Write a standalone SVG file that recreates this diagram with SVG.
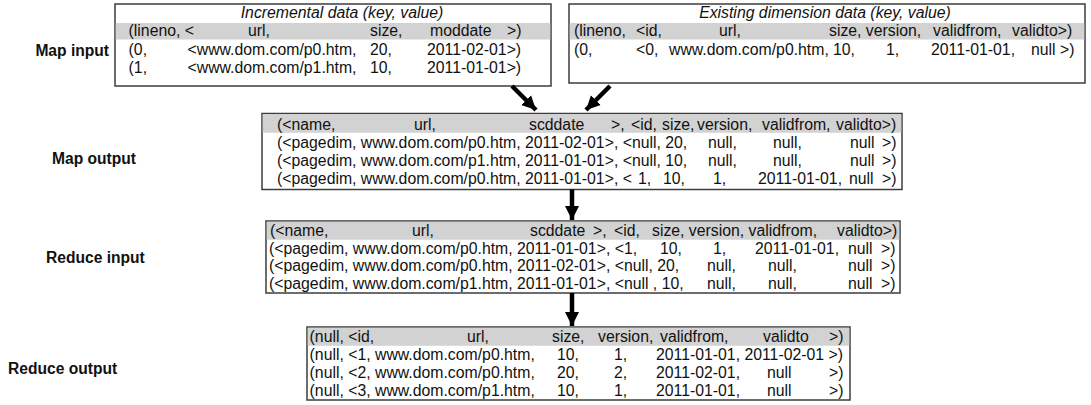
<svg xmlns="http://www.w3.org/2000/svg" width="1091" height="405" viewBox="0 0 1091 405">
<style>
.t{font-family:"Liberation Sans",Arial,Helvetica,sans-serif;font-size:15.8px;fill:#111}
.lbl{font-family:"Liberation Sans",Arial,Helvetica,sans-serif;font-size:15.6px;font-weight:bold;fill:#111}
.ttl{font-style:italic;text-anchor:middle}
.box{fill:#fff;stroke:#3c3c3c;stroke-width:1.5}
.hdr{fill:#d2d2d2}
.conn{stroke:#000;stroke-width:4.5;fill:none;marker-end:url(#ah)}
</style>
<defs>
<marker id="ah" markerUnits="userSpaceOnUse" markerWidth="16" markerHeight="16" refX="14" refY="7" orient="auto" viewBox="0 0 16 14">
<path d="M0,0 L14,7 L0,14 Z" fill="#000"/>
</marker>
</defs>
<rect width="1091" height="405" fill="#fff"/>

<g id="label-map-input"><text class="lbl" x="109" y="55.5" text-anchor="end">Map input</text></g>
<g id="label-map-output"><text class="lbl" x="52" y="163.5">Map output</text></g>
<g id="label-reduce-input"><text class="lbl" x="46" y="262.5">Reduce input</text></g>
<g id="label-reduce-output"><text class="lbl" x="8" y="373.5">Reduce output</text></g>

<g id="incremental-data">
<rect class="box" x="115" y="4" width="436" height="82"/>
<rect class="hdr" x="115.75" y="23" width="434.5" height="16.5"/>
<text class="t ttl" x="342" y="18">Incremental data (key, value)</text>
<text class="t" y="36"><tspan x="128.6">(lineno, &lt;</tspan><tspan x="248">url,</tspan><tspan x="370">size,</tspan><tspan x="430">moddate</tspan><tspan x="507">&gt;)</tspan></text>
<text class="t" y="54.5"><tspan x="128.6">(0,</tspan><tspan x="187.5">&lt;www.dom.com/p0.htm,</tspan><tspan x="370">20,</tspan><tspan x="427">2011-02-01&gt;)</tspan></text>
<text class="t" y="72.5"><tspan x="128.6">(1,</tspan><tspan x="187.5">&lt;www.dom.com/p1.htm,</tspan><tspan x="370">10,</tspan><tspan x="427">2011-01-01&gt;)</tspan></text>
</g>

<g id="existing-dimension-data">
<rect class="box" x="569" y="4" width="516" height="79"/>
<rect class="hdr" x="569.75" y="23" width="514.5" height="16.5"/>
<text class="t ttl" x="825" y="18">Existing dimension data (key, value)</text>
<text class="t" y="36"><tspan x="574">(lineno,</tspan><tspan x="636">&lt;id,</tspan><tspan x="719">url,</tspan><tspan x="829">size, version,</tspan><tspan x="933">validfrom,</tspan><tspan x="1012">validto&gt;)</tspan></text>
<text class="t" y="54.5"><tspan x="574">(0,</tspan><tspan x="636">&lt;0,</tspan><tspan x="669">www.dom.com/p0.htm,</tspan><tspan x="833">10,</tspan><tspan x="886">1,</tspan><tspan x="931">2011-01-01,</tspan><tspan x="1031">null &gt;)</tspan></text>
</g>

<g id="map-output">
<rect class="box" x="262" y="113.5" width="640" height="76"/>
<rect class="hdr" x="262.75" y="114.25" width="638.5" height="18.5"/>
<text class="t" y="130"><tspan x="277">(&lt;name,</tspan><tspan x="414">url,</tspan><tspan x="529">scddate</tspan><tspan x="611">&gt;,</tspan><tspan x="631">&lt;id,</tspan><tspan x="662">size,</tspan><tspan x="697">version,</tspan><tspan x="762">validfrom,</tspan><tspan x="836">validto&gt;)</tspan></text>
<text class="t" y="148"><tspan x="277">(&lt;pagedim, www.dom.com/p0.htm, 2011-02-01&gt;, &lt;null, 20,</tspan><tspan x="708">null,</tspan><tspan x="773">null,</tspan><tspan x="850">null</tspan><tspan x="882">&gt;)</tspan></text>
<text class="t" y="166"><tspan x="277">(&lt;pagedim, www.dom.com/p1.htm, 2011-01-01&gt;, &lt;null, 10,</tspan><tspan x="708">null,</tspan><tspan x="773">null,</tspan><tspan x="850">null</tspan><tspan x="882">&gt;)</tspan></text>
<text class="t" y="184"><tspan x="277">(&lt;pagedim, www.dom.com/p0.htm, 2011-01-01&gt;, &lt;</tspan><tspan x="638">1,</tspan><tspan x="663">10,</tspan><tspan x="713">1,</tspan><tspan x="758">2011-01-01,</tspan><tspan x="849">null</tspan><tspan x="882">&gt;)</tspan></text>
</g>

<g id="reduce-input">
<rect class="box" x="266" y="221" width="634" height="72"/>
<rect class="hdr" x="266.75" y="221.75" width="632.5" height="18"/>
<text class="t" y="236"><tspan x="270">(&lt;name,</tspan><tspan x="412">url,</tspan><tspan x="530">scddate</tspan><tspan x="593">&gt;,</tspan><tspan x="614">&lt;id,</tspan><tspan x="652">size, version, validfrom,</tspan><tspan x="837">validto&gt;)</tspan></text>
<text class="t" y="253.5"><tspan x="269">(&lt;pagedim, www.dom.com/p0.htm, 2011-01-01&gt;, &lt;1,</tspan><tspan x="660">10,</tspan><tspan x="713">1,</tspan><tspan x="755">2011-01-01,</tspan><tspan x="848">null</tspan><tspan x="881">&gt;)</tspan></text>
<text class="t" y="271"><tspan x="269">(&lt;pagedim, www.dom.com/p0.htm, 2011-02-01&gt;, &lt;null, 20,</tspan><tspan x="707">null,</tspan><tspan x="768">null,</tspan><tspan x="848">null</tspan><tspan x="881">&gt;)</tspan></text>
<text class="t" y="288.5"><tspan x="269">(&lt;pagedim, www.dom.com/p1.htm, 2011-01-01&gt;, &lt;null , 10,</tspan><tspan x="707">null,</tspan><tspan x="768">null,</tspan><tspan x="848">null</tspan><tspan x="881">&gt;)</tspan></text>
</g>

<g id="reduce-output">
<rect class="box" x="307" y="327" width="543" height="73"/>
<rect class="hdr" x="307.75" y="327.75" width="541.5" height="18"/>
<text class="t" y="342"><tspan x="309.6">(null, &lt;id,</tspan><tspan x="467">url,</tspan><tspan x="552">size,</tspan><tspan x="598">version,</tspan><tspan x="660">validfrom,</tspan><tspan x="763">validto</tspan><tspan x="829">&gt;)</tspan></text>
<text class="t" y="360"><tspan x="309.6">(null, &lt;1, www.dom.com/p0.htm,</tspan><tspan x="557">10,</tspan><tspan x="614">1,</tspan><tspan x="656">2011-01-01, 2011-02-01 &gt;)</tspan></text>
<text class="t" y="378"><tspan x="309.6">(null, &lt;2, www.dom.com/p0.htm,</tspan><tspan x="557">20,</tspan><tspan x="614">2,</tspan><tspan x="656">2011-02-01,</tspan><tspan x="767">null</tspan><tspan x="829">&gt;)</tspan></text>
<text class="t" y="396"><tspan x="309.6">(null, &lt;3, www.dom.com/p1.htm,</tspan><tspan x="557">10,</tspan><tspan x="614">1,</tspan><tspan x="656">2011-01-01,</tspan><tspan x="767">null</tspan><tspan x="829">&gt;)</tspan></text>
</g>

<g id="connectors">
<line class="conn" x1="512" y1="86" x2="536" y2="110"/>
<line class="conn" x1="610" y1="86" x2="586" y2="110"/>
<line class="conn" x1="572" y1="189.5" x2="572" y2="220"/>
<line class="conn" x1="572" y1="293" x2="572" y2="326"/>
</g>
</svg>
